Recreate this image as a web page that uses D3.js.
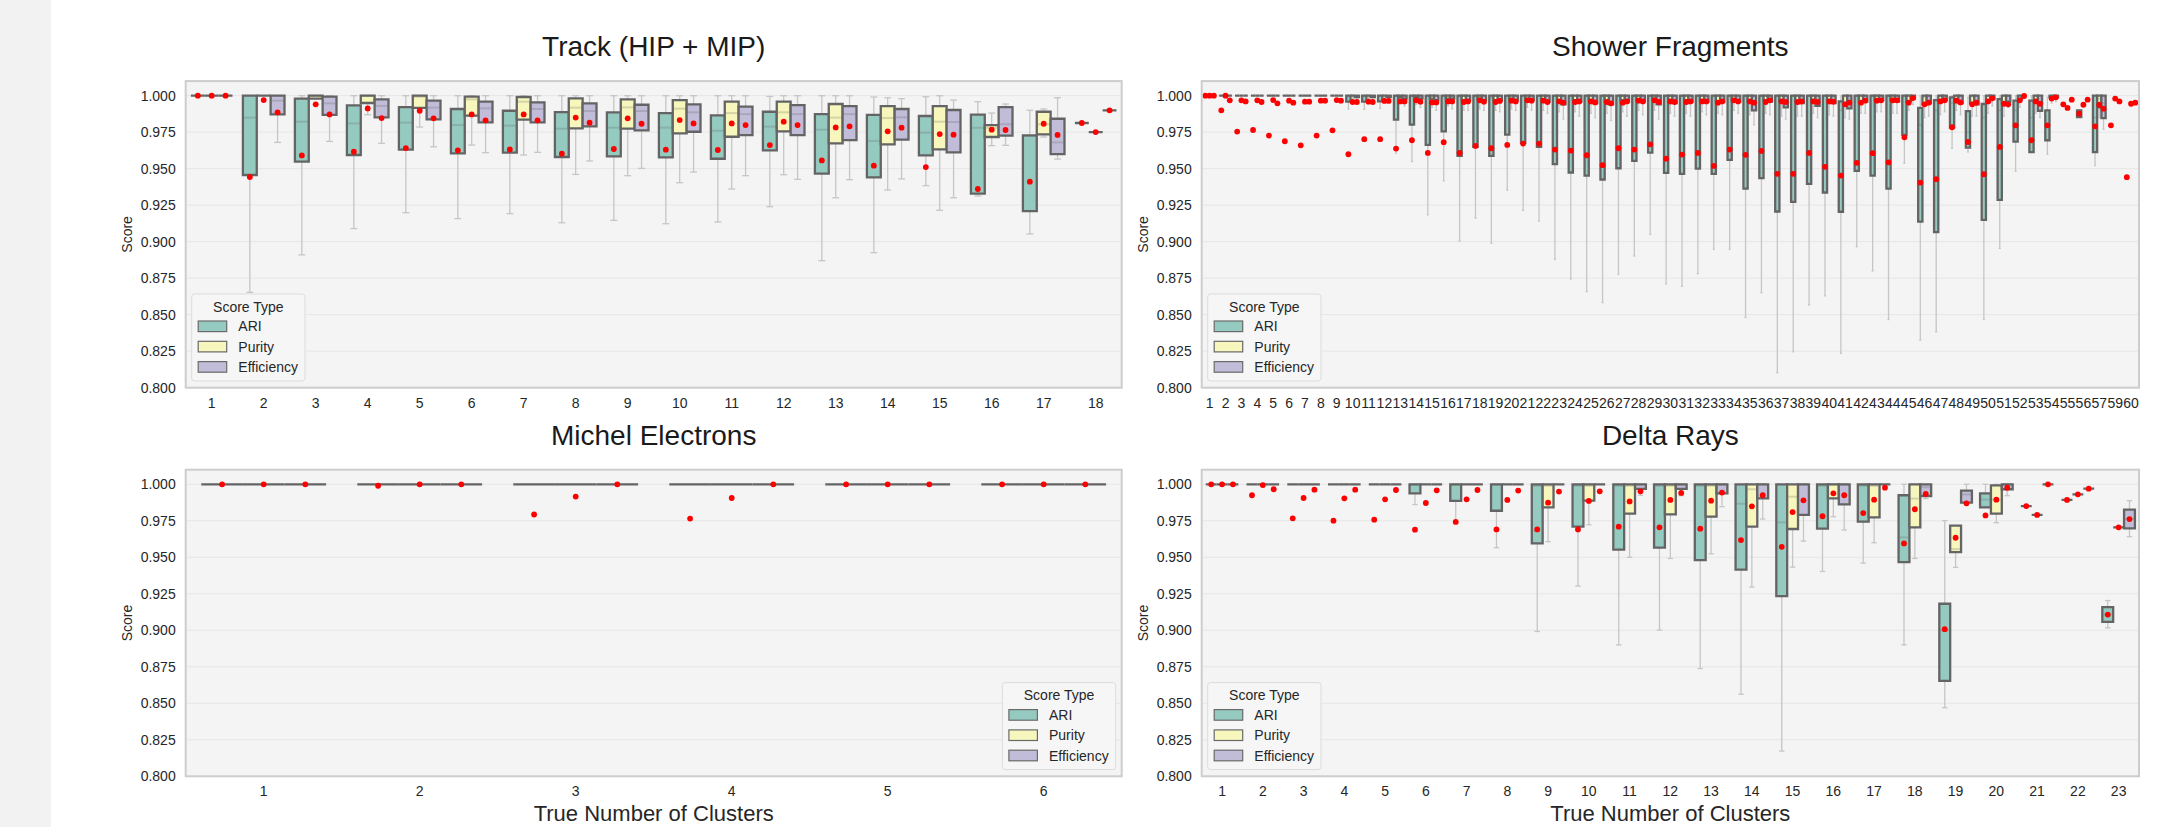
<!DOCTYPE html>
<html><head><meta charset="utf-8">
<script src="https://cdn.jsdelivr.net/npm/d3@7"></script>
<style>body{margin:0;background:#fff;} svg{display:block;font-family:"Liberation Sans",Arial,sans-serif;}</style>
</head><body><svg id="c" width="2157" height="827"></svg>
<script>
// ---------------- DATA ----------------
const scoreTypes = ["ARI", "Purity", "Efficiency"];
const yTicks = [0.800, 0.825, 0.850, 0.875, 0.900, 0.925, 0.950, 0.975, 1.000];

// box stats: [lowWhisker, q1, median, q3, highWhisker]
const trackCats = ["1","2","3","4","5","6","7","8","9","10","11","12","13","14","15","16","17","18"];
const trackARI = [
[1,1,1,1,1],[0.8653,0.9457,0.985,1,1],[0.891,0.9548,0.9822,0.998,1],[0.909,0.9594,0.981,0.9934,1],
[0.9199,0.963,0.9815,0.9922,1],[0.9158,0.9605,0.9799,0.9909,1],[0.9192,0.961,0.9795,0.9897,1],
[0.913,0.958,0.9774,0.9888,1],[0.9146,0.9584,0.9781,0.9886,1],[0.9123,0.9578,0.9781,0.9881,1],
[0.9135,0.9568,0.976,0.9865,1],[0.924,0.9626,0.9788,0.989,0.9995],[0.887,0.9466,0.9767,0.9874,1],
[0.8925,0.9441,0.969,0.9868,0.9991],[0.9384,0.9591,0.9747,0.9861,0.9993],[0.9313,0.9329,0.978,0.987,0.9959],
[0.9053,0.921,0.9725,0.9728,0.99],[0.9813,0.9813,0.9813,0.9813,0.9813]];
const trackARIMean = [1,0.9443,0.9591,0.9616,0.9641,0.9626,0.9632,0.9603,0.9635,0.963,0.9628,0.9662,0.9557,0.9521,0.9511,0.9361,0.9411,0.9813];
const trackPurity = [
[1,1,1,1,1],[1,1,1,1,1],[0.998,0.998,1,1,1],[0.987,0.995,1,1,1],[0.9785,0.9916,0.9993,1,1],
[0.9662,0.9863,0.9975,0.9993,1],[0.9594,0.9836,0.9959,0.9991,1],[0.9461,0.9776,0.9918,0.9982,1],
[0.9452,0.9774,0.992,0.9975,1],[0.9404,0.9742,0.9911,0.997,1],[0.9361,0.9719,0.9881,0.9959,1],
[0.9459,0.9756,0.9886,0.9959,1],[0.9301,0.9674,0.985,0.9943,1],[0.9354,0.9667,0.9847,0.9929,0.9986],
[0.9215,0.9632,0.9822,0.9929,1],[0.9658,0.9717,0.978,0.9799,0.9881],[0.9717,0.9735,0.9804,0.989,0.9909],
[0.9751,0.9751,0.9751,0.9751,0.9751]];
const trackPurityMean = [1,0.997,0.9941,0.9913,0.9897,0.9872,0.9872,0.985,0.9845,0.9833,0.981,0.9822,0.9783,0.9756,0.9737,0.9767,0.9808,0.9751];
const trackEff = [
[1,1,1,1,1],[0.968,0.9872,0.9966,1,1],[0.9687,0.9868,0.9948,0.9993,1],[0.9674,0.9852,0.993,0.9975,1],
[0.965,0.9838,0.9918,0.9966,1],[0.961,0.9817,0.9913,0.9959,1],[0.9612,0.9817,0.9909,0.9954,1],
[0.9553,0.979,0.9895,0.9947,1],[0.9502,0.9763,0.9895,0.9938,1],[0.9477,0.9753,0.9886,0.994,1],
[0.9452,0.973,0.9874,0.9925,1],[0.9427,0.973,0.9874,0.9936,1],[0.9425,0.9696,0.9874,0.9929,1],
[0.943,0.9699,0.9852,0.9909,0.998],[0.9301,0.9612,0.982,0.9902,0.997],[0.966,0.9726,0.9804,0.9922,0.9943],
[0.9566,0.96,0.968,0.9842,0.9986],[0.99,0.99,0.99,0.99,0.99]];
const trackEffMean = [1,0.9886,0.9872,0.9847,0.9845,0.9831,0.9831,0.9815,0.9808,0.981,0.9799,0.9799,0.979,0.9781,0.9733,0.9765,0.9731,0.99];

const showerCats = ["1","2","3","4","5","6","7","8","9","10","11","12","13","14","15","16","17","18","19","20",
"21","22","23","24","25","26","27","28","29","30","31","32","33","34","35","36","37","38","39","40",
"41","42","43","44","45","46","47","48","49","50","51","52","53","54","55","56","57","59","60"];
const showerARI = [
[1,1,1,1,1],[1,1,1,1,1],[1,1,1,1,1],[1,1,1,1,1],[1,1,1,1,1],[1,1,1,1,1],[1,1,1,1,1],[1,1,1,1,1],[1,1,1,1,1],
[0.9909,0.9959,1,1,1],[0.9907,0.9959,1,1,1],[0.9913,0.9961,1,1,1],[0.9606,0.9836,1,1,1],[0.9549,0.9802,1,1,1],
[0.9184,0.9663,1,1,1],[0.9417,0.9756,1,1,1],[0.9005,0.9588,1,1,1],[0.9162,0.9649,1,1,1],[0.8989,0.9588,0.9985,1,1],
[0.9353,0.9733,1,1,1],[0.9214,0.9677,1,1,1],[0.9141,0.9649,1,1,1],[0.8879,0.9531,1,1,1],[0.8745,0.9474,1,1,1],
[0.8658,0.9453,1,1,1],[0.8583,0.9426,1,1,1],[0.8777,0.9503,1,1,1],[0.8902,0.9554,1,1,1],[0.905,0.961,1,1,1],
[0.8711,0.9472,1,1,1],[0.8695,0.9465,1,1,1],[0.8781,0.9501,1,1,1],[0.8948,0.9465,1,1,1],[0.8948,0.956,1,1,1],
[0.8481,0.9364,1,1,1],[0.8651,0.9435,1,1,1],[0.8102,0.9207,1,1,1],[0.8246,0.9273,1,1,1],[0.8567,0.9396,1,1,1],
[0.8629,0.9337,1,1,1],[0.8235,0.9205,0.99,0.9961,1],[0.8966,0.9485,1,1,1],[0.88,0.9453,1,1,1],
[0.8467,0.9364,1,1,1],[0.9538,0.9731,1,1,1],[0.8326,0.9137,0.98,0.9916,1],[0.8383,0.9066,0.99,0.997,1],
[0.964,0.9781,0.995,0.9989,1],[0.9615,0.9645,0.975,0.9895,0.9989],[0.8467,0.915,0.985,0.9943,1],
[0.8954,0.9287,0.99,0.9977,1],[0.9483,0.9686,0.99,0.9966,1],[0.9613,0.9613,0.985,0.9966,1],
[0.9599,0.9695,0.98,0.99,0.999],[0.9941,0.9941,0.9941,0.9941,0.9941],[0.9854,0.9854,0.9877,0.99,0.99],
[0.9522,0.9613,0.985,1,1],[0.9797,0.9797,0.9797,0.9797,0.9797],[0.9442,0.9442,0.9442,0.9442,0.9442]];
const showerARIMean = [1,0.990,0.9754,0.9765,0.9727,0.9688,0.966,0.9727,0.9763,0.9599,
0.9702,0.9702,0.9638,0.9695,0.9608,0.9681,0.9608,0.9656,0.964,0.9663,
0.9672,0.9672,0.9631,0.9624,0.9592,0.9524,0.964,0.9631,0.9667,0.9569,
0.9597,0.9608,0.9519,0.9631,0.9595,0.9622,0.9465,0.9465,0.9608,0.9513,
0.9453,0.954,0.9606,0.9544,0.9715,0.9405,0.9428,0.9784,0.9683,0.9462,
0.9649,0.9797,0.9695,0.9797,0.9941,0.9877,0.979,0.9797,0.9442];
const showerPurity = [
[1,1,1,1,1],[1,1,1,1,1],[1,1,1,1,1],[1,1,1,1,1],[1,1,1,1,1],[1,1,1,1,1],[1,1,1,1,1],[1,1,1,1,1],[1,1,1,1,1],
[0.998,1,1,1,1],[0.998,1,1,1,1],[0.998,1,1,1,1],[0.995,0.999,1,1,1],[0.994,0.999,1,1,1],[0.992,0.998,1,1,1],
[0.993,0.998,1,1,1],[0.99,0.997,1,1,1],[0.991,0.998,1,1,1],[0.99,0.997,1,1,1],[0.991,0.998,1,1,1],
[0.992,0.998,1,1,1],[0.99,0.997,1,1,1],[0.989,0.997,1,1,1],[0.989,0.997,1,1,1],[0.988,0.997,1,1,1],
[0.988,0.996,1,1,1],[0.989,0.997,1,1,1],[0.99,0.997,1,1,1],[0.99,0.998,1,1,1],[0.988,0.996,1,1,1],
[0.988,0.997,1,1,1],[0.989,0.997,1,1,1],[0.988,0.996,1,1,1],[0.99,0.997,1,1,1],[0.987,0.996,1,1,1],
[0.988,0.997,1,1,1],[0.986,0.996,1,1,1],[0.986,0.996,1,1,1],[0.988,0.996,1,1,1],[0.987,0.996,1,1,1],
[0.985,0.995,1,1,1],[0.988,0.996,1,1,1],[0.989,0.997,1,1,1],[0.988,0.997,1,1,1],[0.99,0.996,1,1,1],
[0.985,0.994,0.999,1,1],[0.987,0.996,1,1,1],[0.99,0.997,1,1,1],[0.986,0.995,1,1,1],[0.988,0.996,1,1,1],
[0.986,0.995,1,1,1],[0.992,0.998,1,1,1],[0.988,0.996,1,1,1],[0.995,0.999,1,1,1],
[0.9916,0.9916,0.9916,0.9916,0.9916],[0.9938,0.9938,0.9938,0.9938,0.9938],[0.985,0.992,0.998,1,1],
[0.998,0.998,0.998,0.998,0.998],[0.9945,0.9945,0.9945,0.9945,0.9945]];
const showerPurityMean = [1,1,0.9968,0.9968,0.997,0.9966,0.9959,0.9966,0.997,0.9957,
0.9959,0.9964,0.9961,0.9968,0.9954,0.9961,0.9957,0.9968,0.9957,0.9966,
0.9968,0.9966,0.9961,0.9957,0.9961,0.9957,0.9952,0.9966,0.9968,0.9961,
0.9957,0.9961,0.9952,0.9968,0.9961,0.9957,0.9961,0.9957,0.9961,0.9961,
0.9941,0.9952,0.9966,0.9968,0.9952,0.9941,0.9961,0.9966,0.9941,0.9961,
0.9945,0.9968,0.9961,0.998,0.9916,0.9938,0.9938,0.998,0.9945];
const showerEff = [
[1,1,1,1,1],[1,1,1,1,1],[1,1,1,1,1],[1,1,1,1,1],[1,1,1,1,1],[1,1,1,1,1],[1,1,1,1,1],[1,1,1,1,1],[1,1,1,1,1],
[0.996,0.999,1,1,1],[0.996,0.999,1,1,1],[0.997,0.999,1,1,1],[0.993,0.998,1,1,1],[0.992,0.998,1,1,1],
[0.99,0.997,1,1,1],[0.991,0.998,1,1,1],[0.99,0.997,1,1,1],[0.99,0.997,1,1,1],[0.989,0.997,1,1,1],
[0.99,0.997,1,1,1],[0.99,0.997,1,1,1],[0.988,0.996,1,1,1],[0.984,0.994,1,1,1],[0.986,0.996,1,1,1],
[0.985,0.995,1,1,1],[0.983,0.994,1,1,1],[0.986,0.996,1,1,1],[0.987,0.996,1,1,1],[0.984,0.994,1,1,1],
[0.986,0.995,1,1,1],[0.986,0.996,1,1,1],[0.987,0.996,1,1,1],[0.987,0.996,1,1,1],[0.988,0.996,1,1,1],
[0.98,0.990,0.999,1,1],[0.987,0.996,1,1,1],[0.984,0.992,1,1,1],[0.986,0.995,1,1,1],[0.985,0.993,1,1,1],
[0.986,0.995,1,1,1],[0.984,0.9913,0.998,1,1],[0.988,0.996,1,1,1],[0.989,0.997,1,1,1],[0.988,0.996,1,1,1],
[0.994,0.998,1,1,1],[0.986,0.995,1,1,1],[0.989,0.997,1,1,1],[0.987,0.995,1,1,1],[0.986,0.994,1,1,1],
[0.993,0.998,1,1,1],[0.992,0.996,1,1,1],[0.998,1,1,1,1],[0.985,0.9897,0.998,1,1],[0.996,0.999,1,1,1],
[0.9973,0.9973,0.9973,0.9973,0.9973],[0.9973,0.9973,0.9973,0.9973,0.9973],[0.977,0.9847,0.995,1,1],
[0.9961,0.9961,0.9961,0.9961,0.9961],[0.9952,0.9952,0.9952,0.9952,0.9952]];
const showerEffMean = [1,0.9968,0.9961,0.9957,0.9948,0.9952,0.9959,0.9966,0.9966,0.9957,
0.9957,0.9964,0.9961,0.9959,0.9954,0.9961,0.9961,0.9959,0.9964,0.9961,
0.9966,0.9957,0.9952,0.9961,0.9954,0.9948,0.9961,0.9961,0.9957,0.9957,
0.9961,0.9961,0.9961,0.9961,0.9952,0.9968,0.9957,0.9961,0.9957,0.9959,
0.9952,0.9966,0.9968,0.9968,0.9984,0.9952,0.9968,0.9954,0.9952,0.9982,
0.9941,0.9998,0.9945,0.9989,0.9973,0.9973,0.9911,0.9961,0.9952];

const michelCats = ["1","2","3","4","5","6"];
const michelARI = [[1,1,1,1,1],[1,1,1,1,1],[1,1,1,1,1],[1,1,1,1,1],[1,1,1,1,1],[1,1,1,1,1]];
const michelARIMean = [1,0.999,0.9793,0.9765,1,1];
const michelPurity = [[1,1,1,1,1],[1,1,1,1,1],[1,1,1,1,1],[1,1,1,1,1],[1,1,1,1,1],[1,1,1,1,1]];
const michelPurityMean = [1,1,0.9916,0.9906,1,1];
const michelEff = [[1,1,1,1,1],[1,1,1,1,1],[1,1,1,1,1],[1,1,1,1,1],[1,1,1,1,1],[1,1,1,1,1]];
const michelEffMean = [1,1,1,1,1,1];

const deltaCats = ["1","2","3","4","5","6","7","8","9","10","11","12","13","14","15","16","17","18","19","20","21","22","23"];
const deltaARI = [
[1,1,1,1,1],[1,1,1,1,1],[1,1,1,1,1],[1,1,1,1,1],[1,1,1,1,1],
[0.9861,0.9938,1,1,1],[0.9733,0.9886,1,1,1],[0.9566,0.9819,1,1,1],[0.8992,0.9595,0.999,1,1],
[0.9303,0.971,0.999,1,1],[0.89,0.9552,0.999,1,1],[0.9001,0.9566,0.999,1,1],[0.8738,0.9481,0.999,1,1],
[0.8562,0.9415,0.9867,1,1],[0.8173,0.9234,0.9739,1,1],[0.9403,0.9696,0.999,1,1],[0.946,0.9744,0.999,1,1],
[0.89,0.9467,0.9636,0.9925,1],[0.847,0.8653,0.9,0.9182,0.9751],[0.9842,0.9842,0.9895,0.9938,1],
[0.9851,0.9851,0.9851,0.9851,0.9851],[0.9893,0.9893,0.9893,0.9893,0.9893],[0.9017,0.9058,0.9108,0.9159,0.9204]];
const deltaARIMean = [1,0.9925,0.9767,0.9751,0.9758,0.9689,0.9742,0.9691,0.9691,0.9691,0.971,0.9705,0.9696,0.9618,0.9572,0.9781,0.9803,0.9595,0.9008,0.9787,0.9851,0.9893,0.9108];
const deltaPurity = [
[1,1,1,1,1],[1,1,1,1,1],[1,1,1,1,1],[1,1,1,1,1],[1,1,1,1,1],[1,1,1,1,1],[1,1,1,1,1],[1,1,1,1,1],
[0.9607,0.9842,0.999,1,1],[0.9723,0.9888,0.999,1,1],[0.95,0.9799,0.999,1,1],[0.9492,0.9794,0.999,1,1],
[0.9524,0.9778,0.999,1,1],[0.9296,0.971,0.9966,1,1],[0.9433,0.9694,0.9915,1,1],[0.9778,0.9904,1,1,1],
[0.96,0.9774,0.999,1,1],[0.9492,0.9705,0.9902,1,1],[0.9431,0.9536,0.9556,0.9717,0.9717],
[0.9737,0.9799,0.9895,0.9993,1],[0.979,0.979,0.979,0.979,0.979],[0.9931,0.9931,0.9931,0.9931,0.9931],
[0.9705,0.9705,0.9705,0.9705,0.9705]];
const deltaPurityMean = [1,0.9995,0.9906,0.9904,0.9897,0.9872,0.9897,0.9893,0.9874,0.9886,0.9883,0.9893,0.9888,0.9849,0.981,0.9938,0.9895,0.9829,0.9634,0.9895,0.979,0.9931,0.9705];
const deltaEff = [
[1,1,1,1,1],[1,1,1,1,1],[1,1,1,1,1],[1,1,1,1,1],[1,1,1,1,1],[1,1,1,1,1],[1,1,1,1,1],[1,1,1,1,1],
[1,1,1,1,1],[1,1,1,1,1],[0.9925,0.9968,1,1,1],[0.9922,0.9968,1,1,1],[0.9847,0.9938,1,1,1],
[0.9762,0.9904,1,1,1],[0.9611,0.979,1,1,1],[0.9687,0.9863,1,1,1],[1,1,1,1,1],[0.9902,0.992,0.998,1,1],
[0.9874,0.9874,0.9931,0.9957,1],[0.9922,0.9966,1,1,1],[1,1,1,1,1],[0.997,0.997,0.997,0.997,0.997],
[0.9641,0.9698,0.9762,0.9826,0.9888]];
const deltaEffMean = [1,0.9966,0.9963,0.9963,0.9961,0.9959,0.9961,0.9957,0.995,0.9952,0.9952,0.9941,0.9943,0.9925,0.989,0.9925,0.9977,0.9934,0.987,0.9977,1,0.997,0.9762];

// ---------------- DRAWING ----------------
const colors = ["#95cac0", "#f6f6bd", "#c1bdd8"];
const textColor = "#262626";
const svg = d3.select("#c");
svg.append("rect").attr("x", 0).attr("y", 0).attr("width", 51).attr("height", 827).attr("fill", "#f2f2f2");

const panels = [
  {title: "Track (HIP + MIP)", cats: trackCats, boxes: [trackARI, trackPurity, trackEff], means: [trackARIMean, trackPurityMean, trackEffMean],
   x: 185.7, y: 81.1, w: 936, h: 306.6, legend: "left", xlabel: false},
  {title: "Shower Fragments", cats: showerCats, boxes: [showerARI, showerPurity, showerEff], means: [showerARIMean, showerPurityMean, showerEffMean],
   x: 1201.7, y: 81.1, w: 937.3, h: 306.6, legend: "left", xlabel: false},
  {title: "Michel Electrons", cats: michelCats, boxes: [michelARI, michelPurity, michelEff], means: [michelARIMean, michelPurityMean, michelEffMean],
   x: 185.7, y: 469.7, w: 936, h: 306.6, legend: "right", xlabel: true},
  {title: "Delta Rays", cats: deltaCats, boxes: [deltaARI, deltaPurity, deltaEff], means: [deltaARIMean, deltaPurityMean, deltaEffMean],
   x: 1201.7, y: 469.7, w: 937.3, h: 306.6, legend: "left", xlabel: true}
];

function drawPanel(p) {
  const g = svg.append("g");
  const x = d3.scaleBand().domain(p.cats).range([p.x, p.x + p.w]);
  const bw = x.bandwidth();
  const hue = d3.scaleBand().domain(scoreTypes).range([bw * 0.1, bw * 0.9]);
  const wb = hue.bandwidth();
  const y = d3.scaleLinear().domain([0.8, 1.01]).range([p.y + p.h, p.y]);

  g.append("rect").attr("x", p.x).attr("y", p.y).attr("width", p.w).attr("height", p.h).attr("fill", "#f4f4f4");
  g.append("g").selectAll("line").data(yTicks).join("line")
    .attr("x1", p.x).attr("x2", p.x + p.w).attr("y1", d => y(d)).attr("y2", d => y(d))
    .attr("stroke", "#e6e6e6").attr("stroke-width", 1);

  const recs = [];
  scoreTypes.forEach((t, ti) => {
    p.cats.forEach((c, ci) => {
      const b = p.boxes[ti][ci];
      recs.push({t, ti, cx: x(c) + hue(t) + wb / 2, bx: x(c) + hue(t), lo: b[0], q1: b[1], med: b[2], q3: b[3], hi: b[4], mean: p.means[ti][ci]});
    });
  });

  const wg = g.append("g").attr("stroke", "#c6c6c6").attr("stroke-width", 1.3).attr("fill", "none");
  recs.forEach(r => {
    const capW = wb * 0.25;
    if (r.lo < r.q1) {
      wg.append("line").attr("x1", r.cx).attr("x2", r.cx).attr("y1", y(r.q1)).attr("y2", y(r.lo));
      wg.append("line").attr("x1", r.cx - capW).attr("x2", r.cx + capW).attr("y1", y(r.lo)).attr("y2", y(r.lo));
    }
    if (r.hi > r.q3) {
      wg.append("line").attr("x1", r.cx).attr("x2", r.cx).attr("y1", y(r.q3)).attr("y2", y(r.hi));
      wg.append("line").attr("x1", r.cx - capW).attr("x2", r.cx + capW).attr("y1", y(r.hi)).attr("y2", y(r.hi));
    }
  });

  g.append("g").selectAll("path").data(recs).join("path")
    .attr("d", r => `M${r.bx},${y(r.q3)}H${r.bx + wb}V${y(r.q1)}H${r.bx}Z`)
    .attr("fill", r => colors[r.ti]).attr("stroke", "#646464").attr("stroke-width", 2.3).attr("stroke-linejoin", "miter");

  g.append("g").selectAll("line").data(recs.filter(r => r.q3 > r.q1)).join("line")
    .attr("x1", r => r.bx + 1).attr("x2", r => r.bx + wb - 1).attr("y1", r => y(r.med)).attr("y2", r => y(r.med))
    .attr("stroke", "rgba(90,90,90,0.22)").attr("stroke-width", 2);

  g.append("g").selectAll("circle").data(recs).join("circle")
    .attr("cx", r => r.cx).attr("cy", r => y(r.mean)).attr("r", 2.9).attr("fill", "#ff0000");

  g.append("rect").attr("x", p.x).attr("y", p.y).attr("width", p.w).attr("height", p.h)
    .attr("fill", "none").attr("stroke", "#cdcdcd").attr("stroke-width", 2);

  const ya = g.append("g").attr("transform", `translate(${p.x},0)`)
    .call(d3.axisLeft(y).tickValues(yTicks).tickFormat(d3.format(".3f")).tickSize(0).tickPadding(10));
  ya.select(".domain").remove();
  ya.selectAll("text").attr("font-size", 14).attr("fill", textColor).attr("font-family", "Liberation Sans, Arial, sans-serif");

  const xa = g.append("g").attr("transform", `translate(0,${p.y + p.h})`)
    .call(d3.axisBottom(x).tickSize(0).tickPadding(10));
  xa.select(".domain").remove();
  xa.selectAll("text").attr("font-size", 14).attr("fill", textColor).attr("font-family", "Liberation Sans, Arial, sans-serif");

  g.append("text").attr("x", p.x + p.w / 2).attr("y", p.y - 24.7).attr("text-anchor", "middle")
    .attr("font-size", 28).attr("fill", "#1a1a1a").text(p.title);

  g.append("text").attr("transform", `translate(${p.x - 54},${p.y + p.h / 2}) rotate(-90)`)
    .attr("text-anchor", "middle").attr("font-size", 14).attr("fill", textColor).text("Score");

  if (p.xlabel) {
    g.append("text").attr("x", p.x + p.w / 2).attr("y", p.y + p.h + 44.5).attr("text-anchor", "middle")
      .attr("font-size", 22).attr("fill", textColor).text("True Number of Clusters");
  }

  const lw = 113.3, lh = 87;
  const lx = p.legend === "left" ? p.x + 6 : p.x + p.w - 6 - lw;
  const ly = p.y + p.h - 6.7 - lh;
  const lg = g.append("g").attr("transform", `translate(${lx},${ly})`);
  lg.append("rect").attr("width", lw).attr("height", lh).attr("rx", 3)
    .attr("fill", "#f6f6f6").attr("fill-opacity", 0.9).attr("stroke", "#dcdcdc").attr("stroke-width", 1);
  lg.append("text").attr("x", lw / 2).attr("y", 17.7).attr("text-anchor", "middle")
    .attr("font-size", 14).attr("fill", textColor).text("Score Type");
  const items = lg.selectAll("g.it").data(scoreTypes).join("g").attr("class", "it")
    .attr("transform", (d, i) => `translate(0,${32.3 + i * 20.3})`);
  items.append("rect").attr("x", 6.5).attr("y", -5.3).attr("width", 28.5).attr("height", 10.6)
    .attr("fill", (d, i) => colors[i]).attr("stroke", "#6a6a6a").attr("stroke-width", 1.2);
  items.append("text").attr("x", 46.6).attr("y", 5).attr("font-size", 14).attr("fill", textColor).text(d => d);
}

panels.forEach(drawPanel);
</script>
</body></html>
